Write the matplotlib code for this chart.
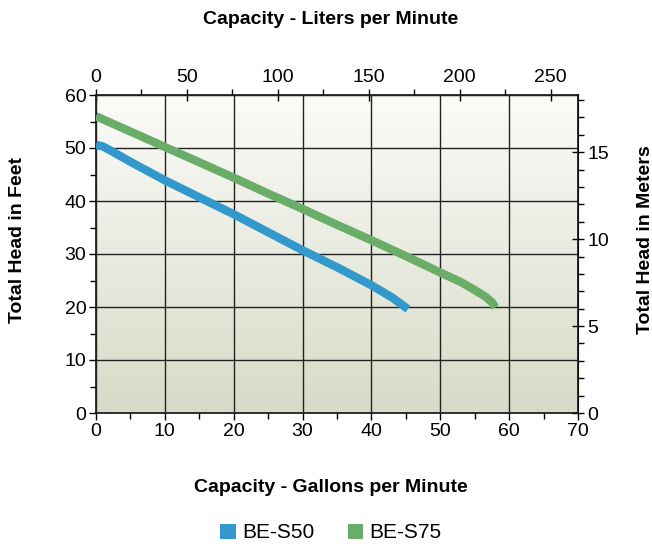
import matplotlib.pyplot as plt
import numpy as np
from matplotlib.patches import Patch

plt.rcParams['font.family'] = ['Liberation Sans', 'DejaVu Sans']

# Pump curves, gallons per minute vs total head in feet
s50_gpm = [0, 1, 2, 5, 10, 15, 20, 25, 30, 35, 40, 43, 45.3]
s50_ft = [50.6, 50.3, 49.6, 47.4, 43.9, 40.7, 37.5, 34.1, 30.7, 27.5, 24.1, 21.8, 19.6]
s75_gpm = [0, 5, 10, 15, 20, 25, 30, 35, 40, 45, 50, 53, 55, 56.5, 57.5, 58]
s75_ft = [56.0, 53.1, 50.2, 47.3, 44.4, 41.4, 38.5, 35.5, 32.6, 29.6, 26.5, 24.7, 23.2, 22.0, 20.9, 19.9]

labels = ['BE-S50', 'BE-S75']
colors = ['#3399cc', '#6aad68']

GAL_TO_L = 3.78541
FT_TO_M = 0.3048

fig = plt.figure(figsize=(6.52, 5.47), dpi=100)
ax = fig.add_axes([96 / 652, 1 - 413 / 547, 482 / 652, 318 / 547])

# Gradient background
grad = np.linspace(0, 1, 256).reshape(-1, 1)
top = np.array([0.985, 0.985, 0.975])
bot = np.array([0.84, 0.86, 0.78])
img = top + (bot - top) * grad[:, :, None]
ax.imshow(img, extent=[0, 70, 0, 60], aspect='auto', zorder=0)

ax.set_xlim(0, 70)
ax.set_ylim(0, 60)
ax.set_xticks(np.arange(0, 71, 10))
ax.set_xticks(np.arange(0, 71, 5), minor=True)
ax.set_yticks(np.arange(0, 61, 10))
ax.set_yticks(np.arange(0, 61, 5), minor=True)
ax.grid(True, which='major', color='#222222', linewidth=1.0, zorder=1)
ax.set_axisbelow(False)

for x, y, c in [(s50_gpm, s50_ft, colors[0]), (s75_gpm, s75_ft, colors[1])]:
    ax.plot(x, y, color=c, linewidth=6, solid_capstyle='butt', solid_joinstyle='round', zorder=3)

ax.tick_params(which='major', direction='out', length=5, width=1, labelsize=14, pad=2)
ax.tick_params(which='minor', direction='out', length=4, width=1)
for s in ax.spines.values():
    s.set_linewidth(1.2)
    s.set_color('#111111')

top_ax = ax.secondary_xaxis('top', functions=(lambda g: g * GAL_TO_L, lambda l: l / GAL_TO_L))
top_ax.set_xticks(np.arange(0, 251, 50))
top_ax.set_xticks(np.arange(0, 266, 25), minor=True)
top_ax.tick_params(which='major', direction='inout', length=9, width=1, labelsize=14, pad=2)
top_ax.tick_params(which='minor', direction='out', length=4, width=1)

right_ax = ax.secondary_yaxis('right', functions=(lambda f: f * FT_TO_M, lambda m: m / FT_TO_M))
right_ax.set_yticks(np.arange(0, 16, 5))
right_ax.set_yticks(np.arange(0, 18.3, 1), minor=True)
right_ax.tick_params(which='major', direction='inout', length=9, width=1, labelsize=14, pad=2)
right_ax.tick_params(which='minor', direction='out', length=4, width=1)

bold = dict(fontsize=14, fontweight='bold', ha='center', va='center')
fig.text(331 / 652, 1 - 20 / 547, 'Capacity - Liters per Minute', **bold)
fig.text(331 / 652, 1 - 488 / 547, 'Capacity - Gallons per Minute', **bold)
fig.text(18 / 652, 1 - 240 / 547, 'Total Head in Feet', rotation=90, **bold)
fig.text(645 / 652, 1 - 240 / 547, 'Total Head in Meters', rotation=90, **bold)

handles = [Patch(facecolor=c, edgecolor='none', label=l) for c, l in zip(colors, labels)]
fig.legend(handles=handles, loc='center', bbox_to_anchor=(331 / 652, 1 - 533 / 547), ncol=2,
           frameon=False, fontsize=15, handlelength=0.75, handleheight=0.75,
           handletextpad=0.3, columnspacing=1.6, borderpad=0)

fig.savefig('out.png', dpi=100)
